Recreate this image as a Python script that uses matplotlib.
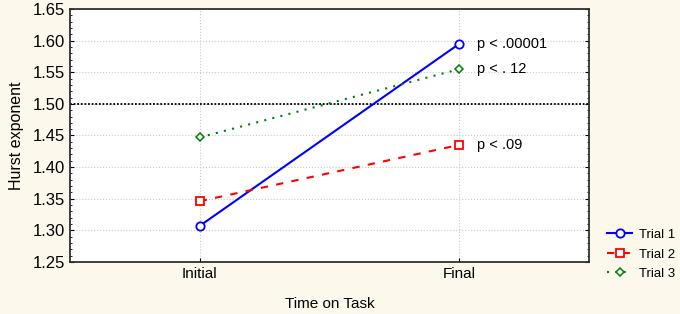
import matplotlib.pyplot as plt
import numpy as np
from matplotlib.ticker import MultipleLocator

plt.rcParams['font.family'] = ['Liberation Sans', 'DejaVu Sans']

# Data
phases = ['Initial', 'Final']
trial1 = [1.307, 1.595]
trial2 = [1.346, 1.435]
trial3 = [1.447, 1.555]
p_labels = ['p < .00001', 'p < .09', 'p < . 12']

fig = plt.figure(figsize=(6.8, 3.14), dpi=100)
fig.patch.set_facecolor('#fdf8ec')
ax = fig.add_axes([0.103, 0.166, 0.763, 0.805])
ax.set_facecolor('white')

x = np.arange(len(phases))

ax.plot(x, trial1, '-', color='#0000ff', lw=1.5, marker='o', ms=6,
        mfc='white', mec='#0000ff', mew=1.3, label='Trial 1')
ax.plot(x, trial2, color='#ff0000', lw=1.5, marker='s', ms=6,
        mfc='white', mec='#ff0000', mew=1.3, label='Trial 2', ls=(0, (3.5, 4)))
ax.plot(x, trial3, color='#008000', lw=1.5, marker='D', ms=4.5,
        mfc='white', mec='#008000', mew=1.1, label='Trial 3', ls=(0, (1, 3)))

# reference line
ax.axhline(1.5, color='black', lw=1.3, ls=(0, (1, 1)), zorder=1)

# p-value annotations next to the final points
for yv, lab in zip([trial1[1], trial2[1], trial3[1]], p_labels):
    ax.annotate(lab, xy=(1, yv), xytext=(13, 0), textcoords='offset points',
                va='center', ha='left', fontsize=10.5)

ax.set_xlim(-0.5, 1.5)
ax.set_ylim(1.25, 1.65)
ax.set_xticks(x)
ax.set_xticklabels(phases, fontsize=11)
ax.yaxis.set_major_locator(MultipleLocator(0.05))
ax.yaxis.set_minor_locator(MultipleLocator(0.01))
ax.set_yticklabels([f'{v:.2f}' for v in ax.get_yticks()], fontsize=12)
ax.tick_params(axis='y', which='both', direction='in', right=True, length=3)
ax.tick_params(axis='y', which='minor', length=1.5)
ax.tick_params(axis='x', direction='in', length=3)

ax.grid(True, color='#c8c8c8', ls=':', lw=0.8, zorder=0)
ax.set_axisbelow(True)

for spine in ax.spines.values():
    spine.set_color('#303030')
    spine.set_linewidth(1.3)

ax.set_ylabel('Hurst exponent', fontsize=11.5, labelpad=6)
ax.set_xlabel('Time on Task', fontsize=11, labelpad=12)

fig.legend(loc='lower left', bbox_to_anchor=(0.893, 0.108), frameon=False,
           fontsize=9.5, handlelength=1.9, handletextpad=0.5, labelspacing=0.55,
           borderaxespad=0, borderpad=0)

plt.savefig('out.png', dpi=100, facecolor=fig.get_facecolor())
